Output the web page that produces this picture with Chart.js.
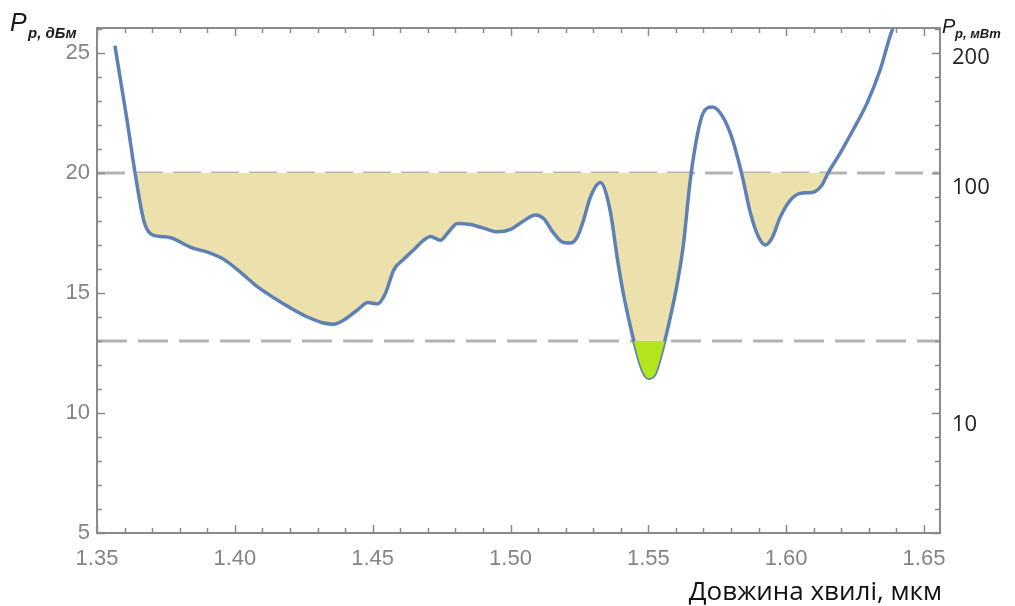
<!DOCTYPE html>
<html>
<head>
<meta charset="utf-8">
<script src="https://cdn.jsdelivr.net/npm/chart.js@4.4.1/dist/chart.umd.min.js"></script>
<style>
  html, body { margin: 0; padding: 0; background: #fff; }
  #wrap { position: relative; width: 1015px; height: 606px; }
</style>
</head>
<body>
<div id="wrap"><canvas id="c"></canvas></div>
<script>
// Wavelength, µm
const wavelength = [
  1.3565, 1.3609, 1.3638, 1.3670, 1.3696, 1.3732, 1.3768, 1.3841, 1.3913, 1.3960,
  1.4022, 1.4083, 1.4141, 1.4203, 1.4264, 1.4322, 1.4359, 1.4395, 1.4446, 1.4482,
  1.4518, 1.4547, 1.4576, 1.4612, 1.4649, 1.4685, 1.4710, 1.4746, 1.4772, 1.4808,
  1.4855, 1.4902, 1.4953, 1.5000, 1.5047, 1.5091, 1.5120, 1.5156, 1.5192, 1.5217,
  1.5243, 1.5264, 1.5290, 1.5326, 1.5362, 1.5388, 1.5409, 1.5435, 1.5453, 1.5478,
  1.5500, 1.5525, 1.5554, 1.5580, 1.5605, 1.5627, 1.5652, 1.5678, 1.5699, 1.5732,
  1.5761, 1.5797, 1.5826, 1.5844, 1.5870, 1.5899, 1.5924, 1.5949, 1.5978, 1.6014,
  1.6051, 1.6098, 1.6130, 1.6152, 1.6196, 1.6243, 1.6293, 1.6341, 1.6377, 1.6402
];
// Pump power threshold, dBm
const powerDbm = [
  25.3, 22.2, 20.0, 18.0, 17.45, 17.35, 17.3, 16.9, 16.65, 16.4,
  15.85, 15.25, 14.8, 14.37, 14.0, 13.75, 13.7, 13.87, 14.3, 14.6,
  14.55, 15.0, 15.95, 16.4, 16.8, 17.2, 17.35, 17.2, 17.5, 17.9,
  17.85, 17.7, 17.55, 17.65, 18.0, 18.25, 18.1, 17.5, 17.1, 17.08,
  17.35, 18.0, 19.0, 19.6, 18.4, 16.4, 15.0, 13.6, 12.75, 11.8,
  11.45, 11.65, 12.75, 14.0, 15.4, 17.0, 19.7, 21.6, 22.5, 22.75,
  22.5, 21.67, 20.55, 19.7, 18.35, 17.35, 17.0, 17.3, 18.15, 18.85,
  19.15, 19.2, 19.5, 20.0, 20.83, 21.8, 22.9, 24.3, 25.7, 26.5
];

const upperLevel = 20;   // dBm, 100 mW
const lowerLevel = 13;   // dBm

const xMin = 1.35, xMax = 1.6558;
const yMin = 5, yMax = 26.04;

const xTickValues = [1.35, 1.40, 1.45, 1.50, 1.55, 1.60, 1.65];
const xTickLabels = ['1.35', '1.40', '1.45', '1.50', '1.55', '1.60', '1.65'];
const leftTickValues = [5, 10, 15, 20, 25];
const leftTickLabels = ['5', '10', '15', '20', '25'];
const rightTickValues = [24.8, 19.4, 9.5];
const rightTickLabels = ['200', '100', '10'];

const curveColor = '#5e81b5';
const bandColor = '#ece0ad';
const lowColor = '#b5e61d';
const levelColor = '#b4b4b4';

const points = wavelength.map((w, i) => ({ x: w, y: powerDbm[i] }));
const levelLine = (v) => [{ x: xMin, y: v }, { x: xMax, y: v }];

// Frame, inward tick marks and axis titles
const framePlugin = {
  id: 'frame',
  afterDraw(chart) {
    const { ctx, chartArea: a, scales } = chart;
    const x = scales.x, y = scales.y;
    ctx.save();
    ctx.strokeStyle = '#8a8a8a';
    ctx.lineWidth = 2;
    ctx.strokeRect(a.left, a.top, a.right - a.left, a.bottom - a.top);

    ctx.lineWidth = 1.5;
    ctx.beginPath();
    for (let i = 0; i <= 30; i++) {
      const px = Math.round(x.getPixelForValue(xMin + i * 0.01)) + 0.5;
      const len = i % 5 === 0 ? 8 : 5;
      ctx.moveTo(px, a.bottom); ctx.lineTo(px, a.bottom - len);
      ctx.moveTo(px, a.top); ctx.lineTo(px, a.top + len);
    }
    for (let v = 5; v <= 26; v++) {
      const py = Math.round(y.getPixelForValue(v)) + 0.5;
      const len = v % 5 === 0 ? 8 : 5;
      ctx.moveTo(a.left, py); ctx.lineTo(a.left + len, py);
      ctx.moveTo(a.right, py); ctx.lineTo(a.right - len, py);
    }
    ctx.stroke();

    // axis titles
    ctx.fillStyle = '#1a1a1a';
    ctx.textBaseline = 'alphabetic';
    ctx.textAlign = 'left';
    ctx.font = 'italic 25px "Liberation Sans"';
    ctx.fillText('P', 10, 31);
    ctx.font = 'italic bold 15px "Liberation Sans"';
    ctx.fillText('p, дБм', 28, 38);

    ctx.font = 'italic 20px "Liberation Sans"';
    ctx.fillText('P', 942, 33);
    ctx.font = 'italic bold 13px "Liberation Sans"';
    ctx.fillText('p, мВт', 955, 38);

    ctx.fillStyle = '#111';
    ctx.textAlign = 'right';
    ctx.font = '26px "Open Sans"';
    ctx.fillText('Довжина хвилі, мкм', 942, 600);
    ctx.restore();
  }
};

new Chart(document.getElementById('c'), {
  type: 'line',
  data: {
    datasets: [
      {
        data: points,
        order: 1,
        borderWidth: 0,
        pointRadius: 0,
        cubicInterpolationMode: 'monotone',
        fill: { target: { value: lowerLevel }, above: 'rgba(0,0,0,0)', below: lowColor }
      },
      {
        data: points,
        order: 2,
        borderColor: curveColor,
        borderWidth: 3.5,
        pointRadius: 0,
        cubicInterpolationMode: 'monotone',
        fill: { target: { value: upperLevel }, above: 'rgba(0,0,0,0)', below: bandColor }
      },
      {
        data: levelLine(upperLevel),
        order: 3,
        borderColor: levelColor,
        borderWidth: 3,
        borderDash: [28, 10],
        pointRadius: 0,
        fill: false
      },
      {
        data: levelLine(lowerLevel),
        order: 3,
        borderColor: levelColor,
        borderWidth: 3,
        borderDash: [30, 11],
        pointRadius: 0,
        fill: false
      }
    ]
  },
  options: {
    responsive: true,
    maintainAspectRatio: false,
    animation: false,
    layout: { padding: { top: 28, left: 0, right: 0, bottom: 0 } },
    plugins: { legend: { display: false }, tooltip: { enabled: false } },
    scales: {
      x: {
        type: 'linear',
        min: xMin, max: xMax,
        grid: { display: false, drawTicks: false },
        border: { display: false },
        afterBuildTicks: (s) => { s.ticks = xTickValues.map(v => ({ value: v })); },
        afterFit: (s) => { s.height = 73; },
        ticks: {
          padding: 13,
          color: '#858585',
          font: { family: 'Liberation Sans', size: 22 },
          maxRotation: 0,
          autoSkip: false,
          callback: (v, i) => xTickLabels[i]
        }
      },
      y: {
        type: 'linear',
        position: 'left',
        min: yMin, max: yMax,
        grid: { display: false, drawTicks: false },
        border: { display: false },
        afterBuildTicks: (s) => { s.ticks = leftTickValues.map(v => ({ value: v })); },
        afterFit: (s) => { s.width = 97; },
        ticks: {
          padding: 7,
          color: '#858585',
          font: { family: 'Liberation Sans', size: 22 },
          callback: (v, i) => leftTickLabels[i]
        }
      },
      y2: {
        type: 'linear',
        position: 'right',
        min: yMin, max: yMax,
        grid: { display: false, drawTicks: false },
        border: { display: false },
        afterBuildTicks: (s) => { s.ticks = rightTickValues.map(v => ({ value: v })); },
        afterFit: (s) => { s.width = 75; },
        ticks: {
          padding: 12,
          color: '#222',
          font: { family: 'Open Sans', size: 22 },
          callback: (v, i) => rightTickLabels[i]
        }
      }
    }
  },
  plugins: [framePlugin]
});
</script>
</body>
</html>
